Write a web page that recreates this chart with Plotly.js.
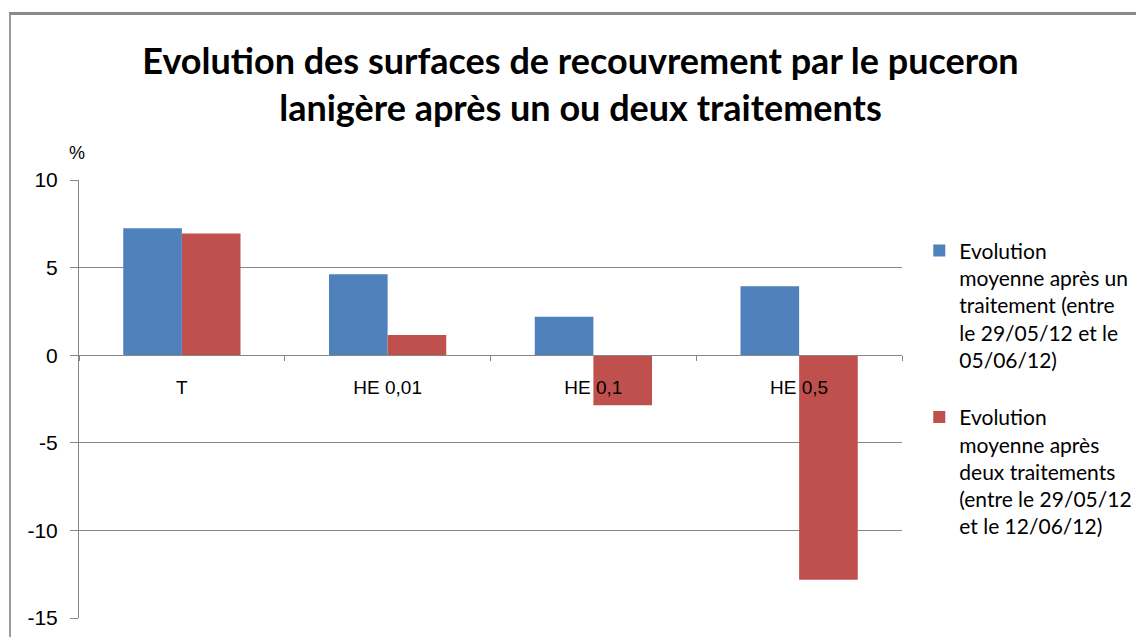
<!DOCTYPE html>
<html><head><meta charset="utf-8">
<script src="https://cdn.plot.ly/plotly-3.0.1.min.js"></script>
<style>body{margin:0;padding:0;background:#fff;overflow:hidden}#frame{position:absolute;left:9px;top:12px;width:1200px;height:700px;border-top:3px solid #8a8a8a;border-left:2px solid #9a9a9a;pointer-events:none;z-index:5}</style>
</head><body>
<div id="chart" style="width:1136px;height:637px;"></div>
<div id="frame"></div>
<script>
var categories = ['T', 'HE 0,01', 'HE 0,1', 'HE 0,5'];
var seriesNames = [
  'Evolution<br>moyenne après un<br>traitement (entre<br>le 29/05/12 et le<br>05/06/12)',
  'Evolution<br>moyenne après<br>deux traitements<br>(entre le 29/05/12<br>et le 12/06/12)'
];
var unTraitement = [7.25, 4.62, 2.2, 3.94];
var deuxTraitements = [6.95, 1.15, -2.85, -12.82];
var yTicks = [-15, -10, -5, 0, 5, 10];
var yTickLabels = ['-15', '-10', '-5', '0', '5', '10'];

var titleFont = 'Lato, "Liberation Sans", Arial, sans-serif';
var tickFont = '"Liberation Sans", Arial, sans-serif';

var data = [
  {type:'bar', x:categories, y:unTraitement, name:seriesNames[0], legendgroup:'a',
   marker:{color:'#4F81BD', line:{width:0}}},
  {type:'bar', x:categories, y:deuxTraitements, name:seriesNames[1], legendgroup:'b',
   marker:{color:'#C0504D', line:{width:0}}}
];

var layout = {
  width:1136, height:637,
  margin:{l:79, r:234, t:180, b:19, pad:0, autoexpand:false},
  paper_bgcolor:'#ffffff', plot_bgcolor:'#ffffff',
  barmode:'group', bargap:0.43, bargroupgap:0,
  title:{text:'Evolution des surfaces de recouvrement par le puceron<br>lanigère après un ou deux traitements',
    xref:'container', x:0.511, xanchor:'center', yref:'container', y:0.884, yanchor:'top',
    font:{family:titleFont, size:36, color:'#000', weight:'bold'}},
  xaxis:{type:'category', anchor:'free', position:0.5996, showline:true, linecolor:'#868686', linewidth:1,
    showgrid:false, zeroline:false, ticks:'outside', tickson:'boundaries', ticklen:5, tickcolor:'#868686',
    ticklabelstandoff:15, tickfont:{family:tickFont, size:19, color:'#000'}},
  yaxis:{range:[-15,10], tickvals:yTicks, ticktext:yTickLabels, showgrid:true, gridcolor:'#868686', gridwidth:1,
    zeroline:true, zerolinecolor:'#868686', zerolinewidth:1,
    showline:true, linecolor:'#868686', linewidth:1, ticks:'outside', ticklen:8, tickcolor:'#868686',
    ticklabelstandoff:8, tickfont:{family:tickFont, size:21, color:'#000'}},
  showlegend:true,
  legend:{x:1.021, xanchor:'left', y:0.885, yanchor:'top', tracegroupgap:27, valign:'top',
    font:{family:titleFont, size:21, color:'#000'}, bgcolor:'rgba(0,0,0,0)', traceorder:'grouped'},
  annotations:[{text:'%', xref:'paper', yref:'paper', x:-0.002, y:1.0626, xanchor:'center', yanchor:'middle',
    showarrow:false, font:{family:tickFont, size:18, color:'#000'}}]
};

Plotly.newPlot('chart', data, layout, {displayModeBar:false, staticPlot:true});
</script>
</body></html>
